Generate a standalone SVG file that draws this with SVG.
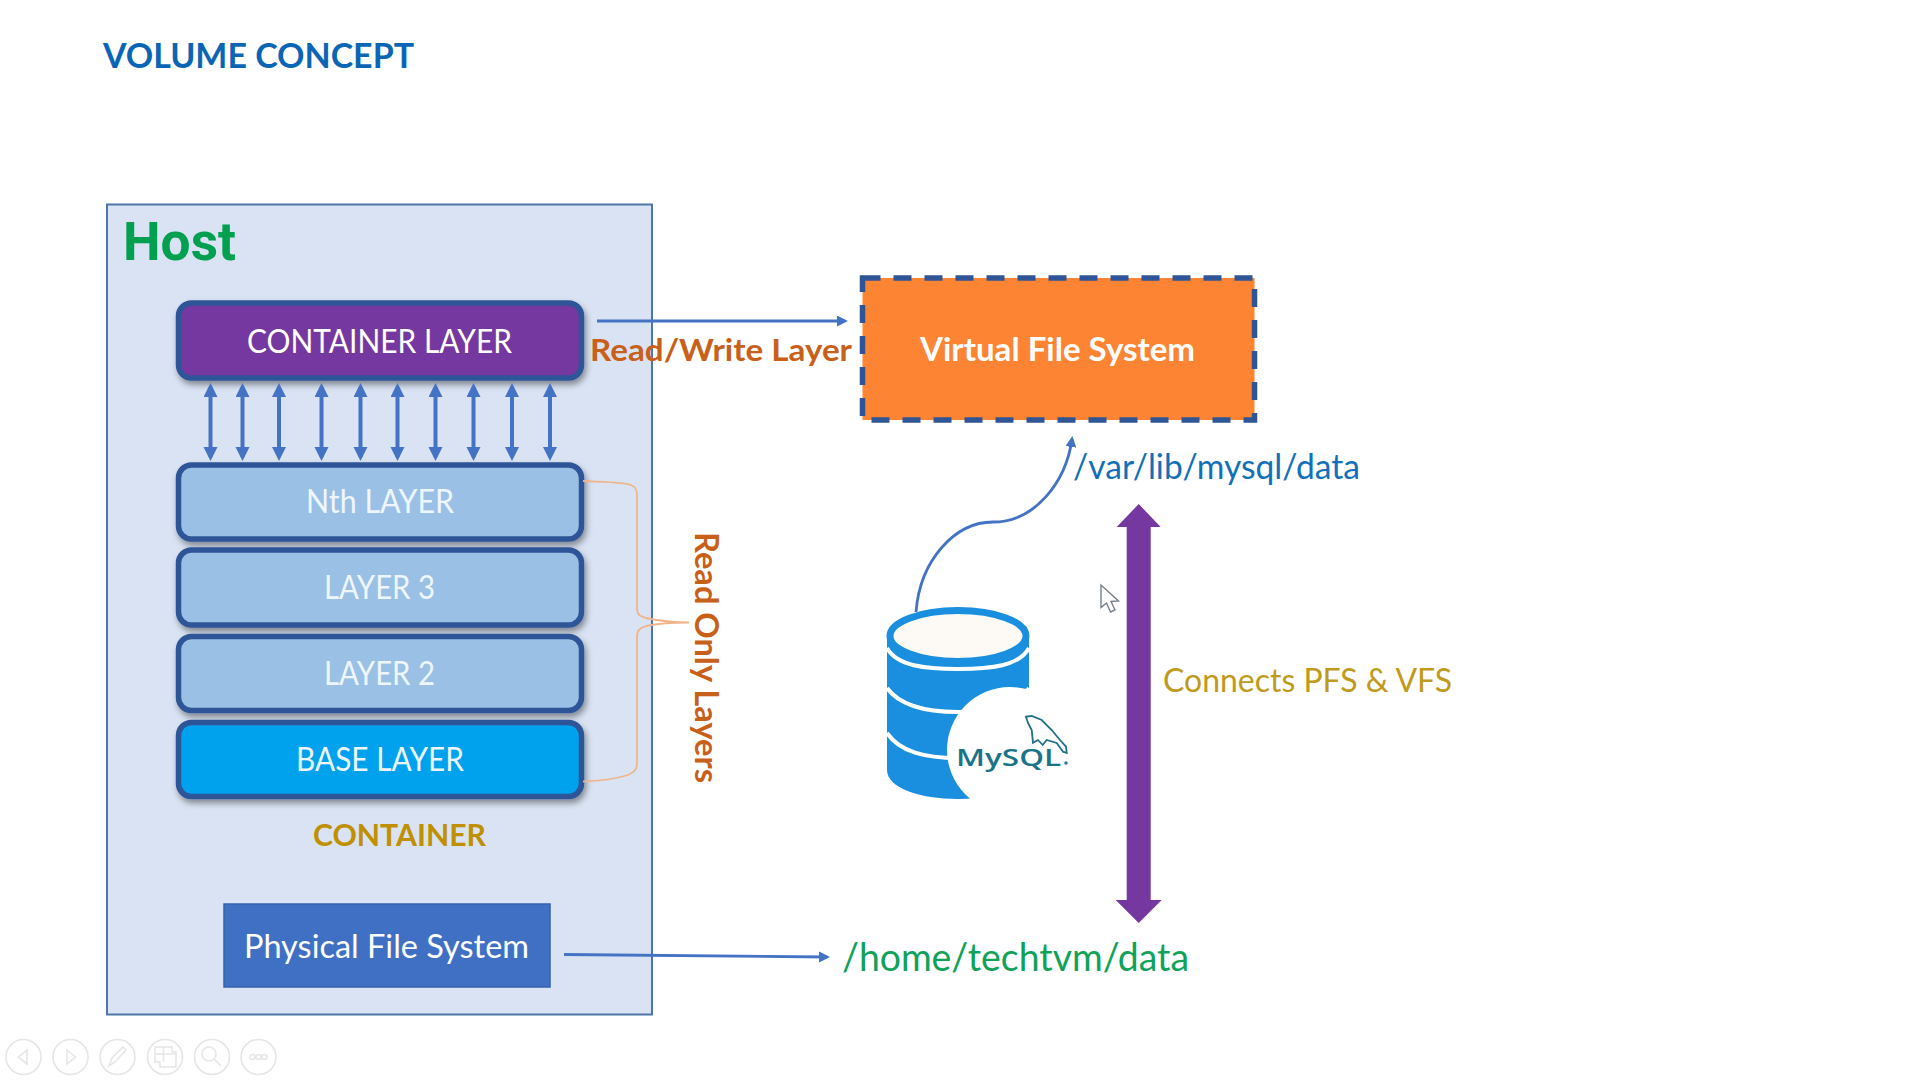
<svg xmlns="http://www.w3.org/2000/svg" width="1920" height="1080" viewBox="0 0 1920 1080">
<style>
text{font-family:"Lato","Liberation Sans",sans-serif}
.lay{stroke:#2F5597;stroke-width:5.5;filter:url(#sh)}
.lt{fill:#fff;font-size:32px}
.lb{fill:#EEF6FC;font-size:32px}
.lnk{fill:none;stroke:#4472C4;stroke-width:2.8}
.dbl{fill:none;stroke:#4472C4;stroke-width:4;marker-start:url(#dh);marker-end:url(#dh)}
.brk{fill:none;stroke:#F0B48C;stroke-width:1.8}
.tb{fill:none;stroke:#E6E6E6;stroke-width:1.6}
.b{font-weight:700}
</style>
<defs>
<filter id="sh" x="-5%" y="-15%" width="110%" height="135%"><feDropShadow dx="2" dy="4" stdDeviation="3" flood-color="#000" flood-opacity=".4"/></filter>
<marker id="ah" markerUnits="userSpaceOnUse" markerWidth="14" markerHeight="12" refX="8" refY="5.5" orient="auto"><path d="M0 0L11 5.5L0 11z" fill="#4472C4"/></marker>
<marker id="dh" markerUnits="userSpaceOnUse" markerWidth="16" markerHeight="16" refX="10" refY="7" orient="auto-start-reverse"><path d="M0 0L14 7L0 14z" fill="#4472C4"/></marker>
</defs>
<rect width="1920" height="1080" fill="#fff"/>
<text id="title" class="b" x="103" y="68" font-size="34" fill="#0A66B4" textLength="311" lengthAdjust="spacingAndGlyphs">VOLUME CONCEPT</text>

<g id="host"><rect x="107" y="204.500" width="545" height="810" fill="#D9E3F3" stroke="#4F76A8" stroke-width="2"/>
<text x="123" y="260" font-size="54" font-weight="700" fill="#00A050" style="font-family:Roboto,'Liberation Sans',sans-serif" textLength="113" lengthAdjust="spacingAndGlyphs">Host</text></g>

<g id="container-layer"><rect class="lay" x="178.500" y="303" width="403" height="75" rx="13" fill="#7538A0"/><text class="lt" x="247" y="353" textLength="265" lengthAdjust="spacingAndGlyphs">CONTAINER LAYER</text></g>
<g id="nth-layer"><rect class="lay" x="178.500" y="465" width="403" height="74" rx="13" fill="#9BC0E6"/><text class="lb" x="306" y="513" textLength="148" lengthAdjust="spacingAndGlyphs">Nth LAYER</text></g>
<g id="layer-3"><rect class="lay" x="178.500" y="550" width="403" height="75" rx="13" fill="#9BC0E6"/><text class="lb" x="324" y="599" textLength="111" lengthAdjust="spacingAndGlyphs">LAYER 3</text></g>
<g id="layer-2"><rect class="lay" x="178.500" y="636.500" width="403" height="74" rx="13" fill="#9BC0E6"/><text class="lb" x="324" y="685" textLength="111" lengthAdjust="spacingAndGlyphs">LAYER 2</text></g>
<g id="base-layer"><rect class="lay" x="178.500" y="722.500" width="403" height="74" rx="13" fill="#00A2EE"/><text class="lb" x="296" y="771" textLength="168" lengthAdjust="spacingAndGlyphs">BASE LAYER</text></g>

<text id="container-label" class="b" x="313" y="846" font-size="31" fill="#C09000" textLength="173" lengthAdjust="spacingAndGlyphs">CONTAINER</text>
<g id="physical-fs"><rect x="224" y="904" width="326" height="83" fill="#3F70C3" stroke="#3562AE" stroke-width="1.500"/><text class="lt" x="244" y="958" textLength="285" lengthAdjust="spacingAndGlyphs">Physical File System</text></g>

<g id="connectors">
<path class="lnk" marker-end="url(#ah)" d="M597 321H845"/>
<path class="lnk" marker-end="url(#ah)" d="M564 954.500L827 957"/>
<path class="lnk" marker-end="url(#ah)" d="M916 612C920 560 955 522 993 522C1035 522 1066 482 1072 439"/>
<path class="dbl" d="M210.500 387V457"/><path class="dbl" d="M242.500 387V457"/><path class="dbl" d="M279 387V457"/><path class="dbl" d="M321.500 387V457"/><path class="dbl" d="M360.500 387V457"/><path class="dbl" d="M397.500 387V457"/><path class="dbl" d="M435.500 387V457"/><path class="dbl" d="M473.500 387V457"/><path class="dbl" d="M512 387V457"/><path class="dbl" d="M550 387V457"/>
<path class="brk" d="M583 481C605 482 625 482 631 485C636 487 637 490 637 495V608C637 615 640 616 646 618C660 621 675 622.500 689 622.500C675 622.500 660 623 646 626C640 628 637 630 637 637V763C637 770 634 772 628 775C615 779 600 781 583 781.500"/>
<polygon id="pfs-vfs-arrow" fill="#7538A0" points="1138.700,504 1160.700,527 1150.700,527 1150.700,900 1161.700,900 1138.700,923 1115.700,900 1126.700,900 1126.700,527 1116.700,527"/>
</g>

<text id="rw-label" class="b" x="590" y="361" font-size="31" fill="#C8601A" textLength="262" lengthAdjust="spacingAndGlyphs">Read/Write Layer</text>
<text id="ro-label" class="b" transform="translate(695 532) rotate(90)" font-size="33" fill="#C8601A" textLength="251" lengthAdjust="spacingAndGlyphs">Read Only Layers</text>

<g id="virtual-fs"><rect x="862.500" y="278" width="392" height="142" fill="#FD8432" stroke="#2F5597" stroke-width="5.500" stroke-dasharray="18 13"/><text class="b" x="920" y="361" font-size="32" fill="#fff" textLength="275" lengthAdjust="spacingAndGlyphs">Virtual File System</text></g>
<text id="var-path" x="1073" y="479" font-size="34" fill="#1270B8" textLength="287" lengthAdjust="spacingAndGlyphs">/var/lib/mysql/data</text>
<text id="connects-label" x="1163" y="692" font-size="33" fill="#C09A1A" textLength="289" lengthAdjust="spacingAndGlyphs">Connects PFS &amp; VFS</text>
<text id="home-path" x="842" y="971" font-size="38" fill="#0FA35A" textLength="347" lengthAdjust="spacingAndGlyphs">/home/techtvm/data</text>

<g id="mysql">
<path d="M887 637V770C887 788 920 799 958 799S1029 788 1029 770V637z" fill="#1A8FE0"/>
<path d="M887 648C897 666 925 669 958 669S1019 666 1029 648M887 688C900 706 925 712 958 712S1017 706 1029 688M887 733C900 752 925 758 958 758S1017 752 1029 733" fill="none" stroke="#fff" stroke-width="4"/>
<ellipse cx="958" cy="636" rx="68" ry="25.500" fill="#FDFAF6" stroke="#1A8FE0" stroke-width="7"/>
<circle cx="1010" cy="750" r="63" fill="#fff"/>
<path d="M1026 716.700L1031.700 716L1041.700 720L1051.700 730L1060 740L1066 746.700L1066.700 753L1063 751.700L1056.700 743L1046.700 740L1042.700 745L1038 740L1033 742.700L1031.700 730L1028 723z" fill="#fff" stroke="#1F7085" stroke-width="1.800"/>
<text x="956" y="766" font-size="23" font-weight="600" fill="#1A7488" style="font-family:'Open Sans',sans-serif" textLength="105" lengthAdjust="spacingAndGlyphs">MySQL</text>
<circle cx="1066" cy="763" r="1.800" fill="#2A7C91"/>
</g>
<path id="cursor" d="M1101 585V607.500L1106.500 603L1110.500 612L1115 610L1111 601.500L1118.500 601z" fill="#fff" stroke="#77808A" stroke-width="1.400"/>

<g id="toolbar">
<circle class="tb" cx="23.500" cy="1057" r="17.500"/><path class="tb" d="M27 1050L18.500 1057L27 1064z"/>
<circle class="tb" cx="70.500" cy="1057" r="17.500"/><path class="tb" d="M67 1050L75.500 1057L67 1064z"/>
<circle class="tb" cx="117.500" cy="1057" r="17.500"/><path class="tb" d="M109 1066L112 1058L123 1047L126 1050L115 1062z"/>
<circle class="tb" cx="165" cy="1057" r="17.500"/><path class="tb" d="M155 1047H172V1052H176V1067H160V1062H155zM163.500 1047V1062M155 1054H176"/>
<circle class="tb" cx="212" cy="1057" r="17.500"/><circle class="tb" cx="209" cy="1054" r="7"/><path class="tb" stroke-width="3" d="M214 1059L221 1066"/>
<circle class="tb" cx="258.500" cy="1057" r="17.500"/><circle class="tb" cx="252.500" cy="1057" r="2.500"/><circle class="tb" cx="258.500" cy="1057" r="2.500"/><circle class="tb" cx="264.500" cy="1057" r="2.500"/>
</g>
</svg>
